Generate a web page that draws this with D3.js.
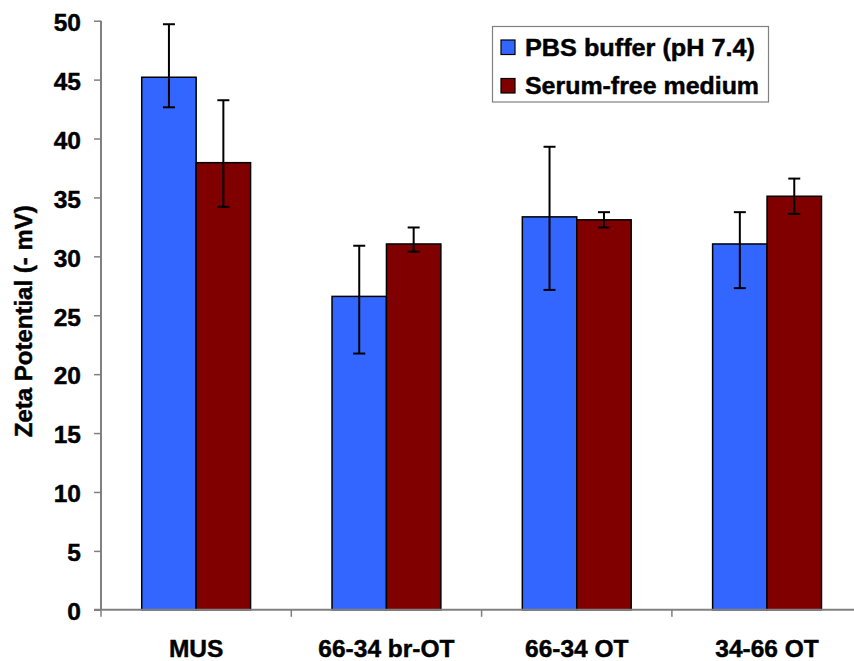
<!DOCTYPE html>
<html>
<head>
<meta charset="utf-8">
<script src="https://cdn.jsdelivr.net/npm/d3@7"></script>
<style>
  html, body { margin: 0; padding: 0; background: #fff; }
  svg { display: block; }
  text { font-family: "Liberation Sans", Arial, sans-serif; font-weight: bold; fill: #000; stroke: #000; stroke-width: 0.45px; }
</style>
</head>
<body>
<svg id="chart" width="854" height="661"></svg>
<script>
// ---- data ----
const categories = ["MUS", "66-34 br-OT", "66-34 OT", "34-66 OT"];
const seriesNames = ["PBS buffer (pH 7.4)", "Serum-free medium"];
const pbsValues   = [45.2, 26.6, 33.35, 31.05];
const pbsLow      = [42.65, 21.75, 27.15, 27.3];
const pbsHigh     = [49.7, 30.9, 39.3, 33.75];
const sfmValues   = [37.95, 31.05, 33.1, 35.1];
const sfmLow      = [34.2, 30.4, 32.45, 33.6];
const sfmHigh     = [43.25, 32.45, 33.75, 36.6];
const yTicks      = [0, 5, 10, 15, 20, 25, 30, 35, 40, 45, 50];
const yLabel      = "Zeta Potential (- mV)";

const colors = ["#3366FF", "#800000"];
const series = [
  { name: seriesNames[0], values: pbsValues, low: pbsLow, high: pbsHigh, color: colors[0] },
  { name: seriesNames[1], values: sfmValues, low: sfmLow, high: sfmHigh, color: colors[1] }
];

const svg = d3.select("#chart");
const pLeft = 101, pRight = 862.2, pTop = 20.7, pBottom = 609.8;

const x0 = d3.scaleBand().domain(categories).range([pLeft, pRight]).padding(0);
const bw = x0.bandwidth();
const x1 = d3.scaleBand().domain(seriesNames).range([bw * 0.214, bw * 0.786]).padding(0);
const y = d3.scaleLinear().domain([0, 50]).range([pBottom, pTop]);

// bars
const groups = svg.append("g").selectAll("g")
  .data(series).join("g");

groups.selectAll("rect")
  .data(s => categories.map((c, i) => ({ c, v: s.values[i], s })))
  .join("rect")
  .attr("x", d => x0(d.c) + x1(d.s.name))
  .attr("y", d => y(d.v))
  .attr("width", x1.bandwidth())
  .attr("height", d => y(0) - y(d.v))
  .attr("fill", d => d.s.color)
  .attr("stroke", "#000")
  .attr("stroke-width", 1.5);

// error bars
const errG = svg.append("g").attr("stroke", "#000").attr("stroke-width", 2);
series.forEach(s => {
  categories.forEach((c, i) => {
    const cx = x0(c) + x1(s.name) + x1.bandwidth() / 2;
    errG.append("line").attr("x1", cx).attr("x2", cx).attr("y1", y(s.low[i])).attr("y2", y(s.high[i]));
    errG.append("line").attr("x1", cx - 6).attr("x2", cx + 6).attr("y1", y(s.low[i])).attr("y2", y(s.low[i]));
    errG.append("line").attr("x1", cx - 6).attr("x2", cx + 6).attr("y1", y(s.high[i])).attr("y2", y(s.high[i]));
  });
});

// y axis
const yAxis = d3.axisLeft(y).tickValues(yTicks).tickSize(7).tickPadding(13);
const yg = svg.append("g").attr("transform", `translate(${pLeft},0)`).call(yAxis);
yg.select(".domain").attr("stroke", "#808080").attr("stroke-width", 2).attr("d", `M0,${pTop}V${pBottom}`);
yg.selectAll(".tick line").attr("stroke", "#808080").attr("stroke-width", 1.5);
yg.selectAll(".tick text").attr("font-size", 24.5).attr("font-family", "Liberation Sans, Arial, sans-serif")
  .attr("font-weight", "bold").attr("dy", "0.4em").attr("fill", "#000");

// x axis
const xg = svg.append("g").attr("transform", `translate(0,${pBottom})`);
xg.append("line").attr("x1", pLeft - 7).attr("x2", 854).attr("y1", 0).attr("y2", 0)
  .attr("stroke", "#808080").attr("stroke-width", 2);
const boundaries = categories.map(c => x0(c)).concat([x0(categories[categories.length - 1]) + bw]);
xg.selectAll("line.tk").data(boundaries).join("line").attr("class", "tk")
  .attr("x1", d => d).attr("x2", d => d).attr("y1", 0).attr("y2", 7)
  .attr("stroke", "#808080").attr("stroke-width", 1.5);
xg.selectAll("text.cat").data(categories).join("text").attr("class", "cat")
  .attr("x", d => x0(d) + bw / 2)
  .attr("y", 47.5)
  .attr("text-anchor", "middle")
  .attr("font-size", 24.5)
  .text(d => d);

// y label
svg.append("text")
  .attr("transform", `translate(32,${(pTop + pBottom) / 2 + 6}) rotate(-90)`)
  .attr("text-anchor", "middle")
  .attr("font-size", 24)
  .text(yLabel);

// legend
const lg = svg.append("g");
lg.append("rect").attr("x", 492.5).attr("y", 26.5).attr("width", 276).attr("height", 75.5)
  .attr("fill", "#fff").attr("stroke", "#808080").attr("stroke-width", 1.2);
const legendLens = [230, 234];
series.forEach((s, i) => {
  const yy = 40 + i * 38.5;
  lg.append("rect").attr("x", 501).attr("y", yy).attr("width", 14).attr("height", 14.5)
    .attr("fill", s.color).attr("stroke", "#000").attr("stroke-width", 1.2);
  lg.append("text").attr("x", 525).attr("y", yy + 15.5).attr("font-size", 23.5)
    .attr("textLength", legendLens[i]).attr("lengthAdjust", "spacingAndGlyphs")
    .text(s.name);
});
</script>
</body>
</html>
